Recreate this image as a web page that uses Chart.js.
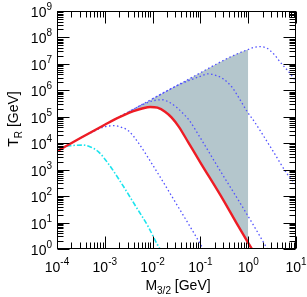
<!DOCTYPE html>
<html>
<head>
<meta charset="utf-8">
<script src="https://cdn.jsdelivr.net/npm/chart.js@4.4.0/dist/chart.umd.min.js"></script>
<style>
  html, body { margin: 0; padding: 0; background: #fff; }
</style>
</head>
<body>
<canvas id="c" width="307" height="297"></canvas>
<script>
// values: gravitino mass M3/2 [GeV] against T_R [GeV]
var redMass = [1e-4, 3.16e-4, 1e-3, 1.58e-3, 2.51e-3, 3.98e-3, 6.31e-3, 8.91e-3, 1.26e-2, 1.82e-2, 2.51e-2, 3.55e-2, 5.62e-2, 0.1, 0.302, 0.562, 1.0, 1.26];
var redTR   = [5.0e3, 1.6e4, 5.0e4, 7.8e4, 1.15e5, 1.62e5, 2.1e5, 2.35e5, 2.2e5, 1.55e5, 9.3e4, 4.17e4, 1.05e4, 1.86e3, 71, 10, 1.7, 0.85];

var cyanMass = [1e-4, 1.35e-4, 2.0e-4, 3.55e-4, 5.01e-4, 7.31e-4, 1.17e-3, 2.24e-3, 4.27e-3, 8.13e-3, 1.23e-2, 1.58e-2];
var cyanTR   = [5.2e3, 7.1e3, 8.1e3, 8.5e3, 7.2e3, 4.8e3, 1.74e3, 302, 46, 6.9, 1.6, 0.76];

// blue dotted curves, smallest to largest
var aMass = [2.51e-4, 5.01e-4, 7.08e-4, 1e-3, 1.58e-3, 2.24e-3, 3.16e-3, 5.01e-3, 9.55e-3, 1.43e-2, 3.16e-2, 6.31e-2, 0.115, 0.141];
var aTR   = [1.29e4, 2.45e4, 3.3e4, 4.2e4, 4.6e4, 4.0e4, 2.9e4, 1.05e4, 1.74e3, 537, 50, 6.3, 1.0, 0.54];

var bMass = [3.16e-3, 6.31e-3, 1e-2, 1.58e-2, 2.24e-2, 3.16e-2, 4.47e-2, 5.75e-2, 0.1, 0.251, 0.621, 1.26, 2.34, 2.82];
var bTR   = [1.55e5, 2.95e5, 4.0e5, 4.4e5, 3.5e5, 2.3e5, 1.26e5, 7.6e4, 1.58e4, 1.0e3, 71, 8.5, 1.26, 0.71];

var cMass = [1e-2, 3.16e-2, 4.47e-2, 6.31e-2, 0.1, 0.146, 0.2, 0.292, 0.462, 0.631, 0.933, 1.39, 1.78, 3.31, 6.76, 10];
var cTR   = [4.8e5, 1.48e6, 1.95e6, 2.5e6, 3.4e6, 4.2e6, 3.8e6, 2.8e6, 1.29e6, 5.4e5, 1.66e5, 6.0e4, 3.0e4, 5.0e3, 630, 263];

var dMass = [1e-4, 1e-3, 1.58e-3, 3.16e-3, 1e-2, 3.16e-2, 0.1, 0.316, 0.5, 0.794, 1.0, 1.32, 1.78, 2.4, 2.88, 3.63, 4.62, 7.48, 10];
var dTR   = [5.2e3, 5.0e4, 7.9e4, 1.55e5, 4.8e5, 1.48e6, 4.6e6, 1.41e7, 2.1e7, 3.0e7, 3.5e7, 4.2e7, 4.5e7, 4.0e7, 3.2e7, 2.1e7, 1.2e7, 4.4e6, 2.2e6];

// shaded band between red curve and the top dotted curve
var shadeFrom = 1.5e-3, shadeTo = 1.0;

var xTicks = [1e-4, 1e-3, 1e-2, 1e-1, 1, 10];
var xTickExp = ['-4', '-3', '-2', '-1', '0', '1'];
var yTicks = [1, 10, 1e2, 1e3, 1e4, 1e5, 1e6, 1e7, 1e8, 1e9];
var yTickExp = ['0', '1', '2', '3', '4', '5', '6', '7', '8', '9'];

var FONT = "'Liberation Sans', Arial, Helvetica, sans-serif";

function pts(ms, ts, lo, hi) {
  var out = [];
  for (var i = 0; i < ms.length; i++) {
    if (lo !== undefined && (ms[i] < lo || ms[i] > hi)) continue;
    out.push({x: ms[i], y: ts[i]});
  }
  return out;
}

function curve(data, color, width, dash) {
  return {
    data: data, borderColor: color, borderWidth: width, borderDash: dash || [],
    pointRadius: 0, fill: false, cubicInterpolationMode: 'monotone', clip: 0
  };
}

var blue = '#5252ff';
var dots = [1.5, 2.5];
var datasets = [
  curve(pts(redMass, redTR), '#ee1c24', 2.4),
  curve(pts(cyanMass, cyanTR), '#1de4ee', 1.6, [5, 2, 1.5, 2]),
  curve(pts(aMass, aTR), blue, 1.3, dots),
  curve(pts(bMass, bTR), blue, 1.3, dots),
  curve(pts(cMass, cTR), blue, 1.3, dots),
  curve(pts(dMass, dTR), blue, 1.3, dots)
];
var shadeTop = curve(pts(dMass, dTR, shadeFrom, shadeTo), 'rgba(0,0,0,0)', 0);
shadeTop.fill = '+1';
shadeTop.backgroundColor = '#b4c6cc';
datasets.push(shadeTop);
datasets.push(curve(pts(redMass, redTR, shadeFrom, shadeTo), 'rgba(0,0,0,0)', 0));

function drawPow(ctx, exp, x, y, align) {
  ctx.font = '14px ' + FONT;
  var w1 = ctx.measureText('10').width;
  ctx.font = '10px ' + FONT;
  var w2 = ctx.measureText(exp).width;
  var x0 = align === 'center' ? x - (w1 + w2) / 2 : x - (w1 + w2);
  ctx.textAlign = 'left';
  ctx.font = '14px ' + FONT;
  ctx.fillText('10', x0, y);
  ctx.font = '10px ' + FONT;
  ctx.fillText(exp, x0 + w1, y - 7);
}

function drawSub(ctx, main, sub, rest, x, y) {
  ctx.font = '14px ' + FONT;
  var w1 = ctx.measureText(main).width;
  var w3 = ctx.measureText(rest).width;
  ctx.font = '10px ' + FONT;
  var w2 = ctx.measureText(sub).width;
  var x0 = x - (w1 + w2 + w3) / 2;
  ctx.textAlign = 'left';
  ctx.font = '14px ' + FONT;
  ctx.fillText(main, x0, y);
  ctx.fillText(rest, x0 + w1 + w2, y);
  ctx.font = '10px ' + FONT;
  ctx.fillText(sub, x0 + w1, y + 4);
}

var frame = {
  id: 'frame',
  afterDatasetsDraw: function(chart) {
    var ctx = chart.ctx, a = chart.chartArea;
    var xs = chart.scales.x, ys = chart.scales.y;
    ctx.save();
    ctx.strokeStyle = '#000';
    ctx.fillStyle = '#000';
    ctx.lineWidth = 1;
    var L = Math.round(a.left) + 0.5, R = Math.round(a.right) - 0.5;
    var T = Math.round(a.top) + 0.5, B = Math.round(a.bottom) - 0.5;
    ctx.strokeRect(L, T, R - L, B - T);

    ctx.beginPath();
    var d, k, v, p, len;
    for (d = -4; d <= 1; d++) {
      for (k = 1; k <= 9; k++) {
        v = k * Math.pow(10, d);
        if (v < xs.min * 0.999 || v > xs.max * 1.001) continue;
        p = Math.round(xs.getPixelForValue(v)) + 0.5;
        len = k === 1 ? 12 : 6;
        ctx.moveTo(p, B); ctx.lineTo(p, B - len);
        ctx.moveTo(p, T); ctx.lineTo(p, T + len);
      }
    }
    for (d = 0; d <= 9; d++) {
      for (k = 1; k <= 9; k++) {
        v = k * Math.pow(10, d);
        if (v < ys.min * 0.999 || v > ys.max * 1.001) continue;
        p = Math.round(ys.getPixelForValue(v)) + 0.5;
        len = k === 1 ? 12 : 6;
        ctx.moveTo(L, p); ctx.lineTo(L + len, p);
        ctx.moveTo(R, p); ctx.lineTo(R - len, p);
      }
    }
    ctx.stroke();

    ctx.textBaseline = 'alphabetic';
    xTicks.forEach(function(t, i) {
      drawPow(ctx, xTickExp[i], xs.getPixelForValue(t), 272, 'center');
    });
    yTicks.forEach(function(t, i) {
      drawPow(ctx, yTickExp[i], 52, ys.getPixelForValue(t) + 6, 'right');
    });

    drawSub(ctx, 'M', '3/2', ' [GeV]', 178, 290);
    ctx.translate(18, 119);
    ctx.rotate(-Math.PI / 2);
    drawSub(ctx, 'T', 'R', ' [GeV]', 0, 0);
    ctx.restore();
  }
};

new Chart(document.getElementById('c'), {
  type: 'line',
  data: { datasets: datasets },
  options: {
    responsive: false,
    animation: false,
    devicePixelRatio: 1,
    layout: { padding: { left: 57, right: 11, top: 11, bottom: 48 } },
    plugins: { legend: { display: false }, tooltip: { enabled: false } },
    scales: {
      x: { type: 'logarithmic', min: 1e-4, max: 10, display: false },
      y: { type: 'logarithmic', min: 1, max: 1e9, display: false }
    }
  },
  plugins: [frame]
});
</script>
</body>
</html>
